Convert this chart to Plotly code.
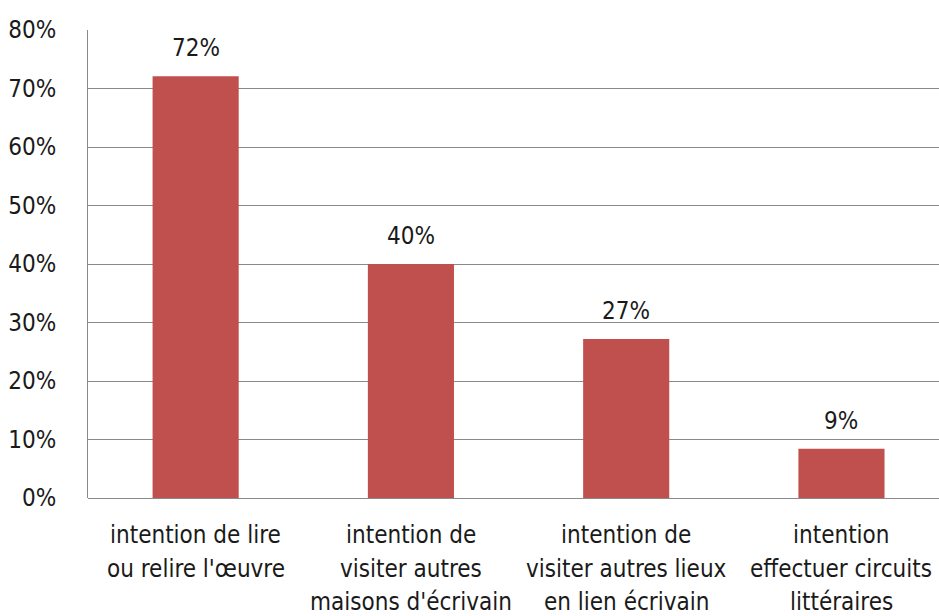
import plotly.graph_objects as go

categories = [
    "intention de lire<br>ou relire l'œuvre",
    "intention de<br>visiter autres<br>maisons d'écrivain",
    "intention de<br>visiter autres lieux<br>en lien écrivain",
    "intention<br>effectuer circuits<br>littéraires",
]
values = [0.721, 0.400, 0.272, 0.084]
value_labels = ["72%", "40%", "27%", "9%"]
y_ticks = [0, 0.1, 0.2, 0.3, 0.4, 0.5, 0.6, 0.7, 0.8]

FONT = "Liberation Sans Narrow, DejaVu Sans Condensed, Arial Narrow, sans-serif"
TXT = "#1a1a1a"

fig = go.Figure()
fig.add_trace(go.Bar(
    x=list(range(len(categories))),
    y=values,
    marker=dict(color="#C0504D", line=dict(width=0)),
    width=0.40,
    hoverinfo="skip",
))

for i, (v, t) in enumerate(zip(values, value_labels)):
    fig.add_annotation(
        x=i, y=v, text=t, showarrow=False, yanchor="bottom", yshift=12,
        font=dict(family=FONT, size=24, color=TXT),
    )

# category labels, one annotation per line for Excel-like line spacing
for i, cat in enumerate(categories):
    for k, line in enumerate(cat.split("<br>")):
        fig.add_annotation(
            x=i, xref="x", y=0, yref="paper", text=line, showarrow=False,
            yanchor="middle", yshift=-(37 + k * 33.5),
            font=dict(family=FONT, size=24, color=TXT),
        )

fig.update_layout(
    width=939, height=616,
    margin=dict(l=88, r=0, t=30, b=118),
    plot_bgcolor="white", paper_bgcolor="white",
    showlegend=False,
    font=dict(family=FONT, size=24, color=TXT),
)
fig.update_xaxes(
    range=[-0.5, 3.453],
    tickmode="array",
    tickvals=list(range(len(categories))),
    showticklabels=False,
    showgrid=False, ticks="", zeroline=False,
    showline=False, automargin=False,
)
fig.update_yaxes(
    range=[0, 0.8],
    tickvals=y_ticks,
    tickformat=".0%",
    showgrid=True, gridcolor="#8A8A8A", gridwidth=1,
    zeroline=True, zerolinecolor="#8A8A8A", zerolinewidth=1,
    showline=True, linecolor="#8A8A8A", linewidth=1,
    ticks="", ticklabelstandoff=26, automargin=False,
    tickfont=dict(family=FONT, size=24, color=TXT),
)

fig.write_html(
    "out.html",
    config={"displayModeBar": False},
    post_script="document.body.style.margin='0';document.body.style.overflow='hidden';",
)
